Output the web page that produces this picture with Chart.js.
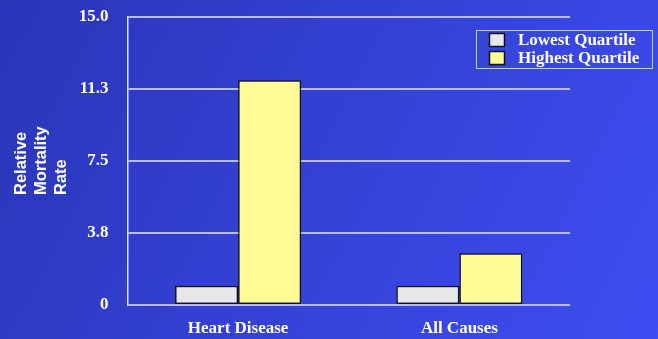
<!DOCTYPE html>
<html>
<head>
<meta charset="utf-8">
<script src="https://cdn.jsdelivr.net/npm/chart.js@4/dist/chart.umd.min.js"></script>
<style>
  html, body { margin: 0; padding: 0; background: #3340d6; }
  #wrap { width: 658px; height: 339px; position: relative; }
</style>
</head>
<body>
<div id="wrap"><canvas id="chart" width="658" height="339"></canvas></div>
<script>
// Relative mortality rate by quartile
const categories = ['Heart Disease', 'All Causes'];
const seriesNames = ['Lowest Quartile', 'Highest Quartile'];
const lowestQuartile = [1.0, 1.0];
const highestQuartile = [11.7, 2.7];
const yTickLabels = ['0', '3.8', '7.5', '11.3', '15.0'];
const yTitleLines = ['Relative', 'Mortality', 'Rate'];

const serif = "'Liberation Serif', 'Times New Roman', serif";
const sans = "'Liberation Sans', Arial, sans-serif";
const gridColor = '#b6baee';

// Diagonal blue backdrop behind everything
const backdrop = {
  id: 'backdrop',
  beforeDraw(chart) {
    const { ctx, width, height } = chart;
    const g = ctx.createLinearGradient(0, 0, width, height);
    g.addColorStop(0, '#2b35b8');
    g.addColorStop(1, '#3e4df2');
    ctx.save();
    ctx.fillStyle = g;
    ctx.fillRect(0, 0, width, height);
    ctx.restore();
  }
};

// Stacked, rotated axis title
const yTitle = {
  id: 'yTitle',
  afterDraw(chart) {
    const { ctx } = chart;
    ctx.save();
    ctx.fillStyle = '#ffffff';
    ctx.font = 'bold 16.5px ' + sans;
    ctx.textAlign = 'left';
    ctx.textBaseline = 'middle';
    const xs = [21, 41, 61];
    yTitleLines.forEach((line, i) => {
      ctx.save();
      ctx.translate(xs[i], 195);
      ctx.rotate(-Math.PI / 2);
      ctx.fillText(line, 0, 0);
      ctx.restore();
    });
    ctx.restore();
  }
};

// Boxed legend in the upper right
const boxLegend = {
  id: 'boxLegend',
  afterDraw(chart) {
    const { ctx } = chart;
    ctx.save();
    ctx.strokeStyle = '#c4c8f2';
    ctx.lineWidth = 1;
    ctx.strokeRect(476.5, 30.5, 176, 38);
    ctx.font = 'bold 17px ' + serif;
    ctx.textBaseline = 'middle';
    ctx.textAlign = 'left';
    chart.data.datasets.forEach((ds, i) => {
      const y = 33.5 + i * 18;
      ctx.fillStyle = ds.backgroundColor;
      ctx.fillRect(489.5, y, 15, 13);
      ctx.strokeStyle = '#111111';
      ctx.lineWidth = 1.5;
      ctx.strokeRect(489.5, y, 15, 13);
      ctx.fillStyle = '#ffffff';
      ctx.fillText(ds.label, 518, y + 7);
    });
    ctx.restore();
  }
};

new Chart(document.getElementById('chart'), {
  type: 'bar',
  data: {
    labels: categories,
    datasets: [
      {
        label: seriesNames[0],
        data: lowestQuartile,
        backgroundColor: '#e8e8e8',
        borderColor: '#111111',
        borderWidth: 1.5,
        borderSkipped: false
      },
      {
        label: seriesNames[1],
        data: highestQuartile,
        backgroundColor: '#fffb96',
        borderColor: '#111111',
        borderWidth: 1.5,
        borderSkipped: false
      }
    ]
  },
  options: {
    responsive: false,
    animation: false,
    devicePixelRatio: 1,
    layout: { padding: { top: 17, right: 88, left: 0, bottom: 0 } },
    datasets: { bar: { barPercentage: 1.0, categoryPercentage: 0.57 } },
    plugins: {
      legend: { display: false },
      tooltip: { enabled: false }
    },
    scales: {
      x: {
        grid: { display: false, drawTicks: false },
        border: { display: false },
        ticks: {
          color: '#ffffff',
          font: { family: serif, size: 17, weight: 'bold' },
          padding: 13
        },
        afterFit(scale) { scale.height = 34; }
      },
      y: {
        min: 0,
        max: 15,
        grid: {
          color: gridColor,
          lineWidth: 2,
          drawTicks: true,
          tickLength: 19,
          tickColor: 'rgba(0,0,0,0)'
        },
        border: { display: true, color: '#e6e8ff', width: 1.5 },
        ticks: {
          stepSize: 3.75,
          color: '#ffffff',
          font: { family: serif, size: 17, weight: 'bold' },
          padding: 0,
          callback: (v) => yTickLabels[Math.round(v / 3.75)]
        },
        afterFit(scale) { scale.width = 127.5; }
      }
    }
  },
  plugins: [backdrop, yTitle, boxLegend]
});
</script>
</body>
</html>
